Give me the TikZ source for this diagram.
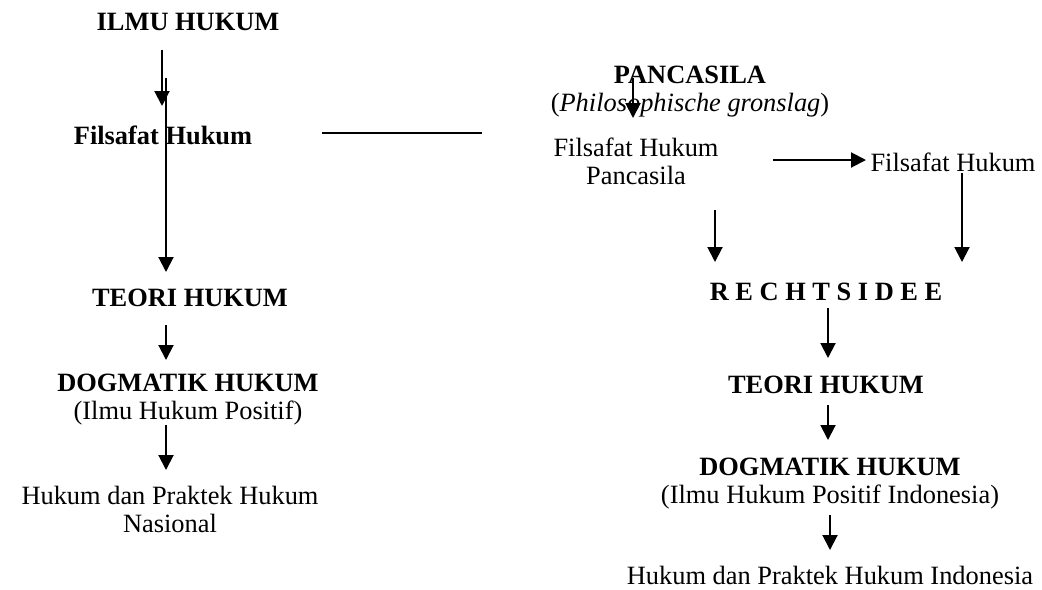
\documentclass[tikz,border=0pt]{standalone}
\usepackage{fontspec}
\setmainfont{Liberation Serif}
\usetikzlibrary{arrows.meta}
\begin{document}
\begin{tikzpicture}[x=0.5pt,y=-0.5pt,
  lbl/.style={inner sep=0pt, font=\fontsize{13.2}{14}\selectfont, align=center},
  bl/.style={lbl, font=\fontsize{13.2}{14}\selectfont\bfseries},
  arr/.style={line width=1pt, -{Triangle[length=7.5pt,width=7.5pt]}},
  ln/.style={line width=1pt}]
\useasboundingbox (0,0) rectangle (1042,589);
% left column
\node[bl] (ilmu) at (188,22) {ILMU HUKUM};
\node[bl] (filL) at (163,135) {Filsafat Hukum};
\node[bl] (teoriL) at (190,298) {TEORI HUKUM};
\node[lbl] (dogL) at (188,400) {\textbf{DOGMATIK HUKUM}\\(Ilmu Hukum Positif)};
\node[lbl] (prakL) at (170,509) {Hukum dan Praktek Hukum\\Nasional};
% right column
\node[lbl] (panc) at (690,92) {\textbf{PANCASILA}\\(\textit{Philosophische gronslag})};
\node[lbl] (filP) at (636,161) {Filsafat Hukum\\Pancasila};
\node[lbl] (filR) at (953,162) {Filsafat Hukum};
\node[bl] (recht) at (826,292) {R E C H T S I D E E};
\node[bl] (teoriR) at (826,385) {TEORI HUKUM};
\node[lbl] (dogR) at (830,484) {\textbf{DOGMATIK HUKUM}\\(Ilmu Hukum Positif Indonesia)};
\node[lbl] (prakR) at (830,575) {Hukum dan Praktek Hukum Indonesia};
% connector ends
\coordinate (ilmuOut) at (162,50);   \coordinate (filLIn) at (162,106);
\coordinate (longTop) at (166,78);   \coordinate (teoriLIn) at (166,272);
\coordinate (linkA) at (322,133);    \coordinate (linkB) at (482,133);
\coordinate (teoriLOut) at (166,325); \coordinate (dogLIn) at (166,360);
\coordinate (dogLOut) at (166,425);  \coordinate (prakLIn) at (166,470);
\coordinate (pancOut) at (633,78);   \coordinate (filPIn) at (633,118);
\coordinate (filPOut) at (773,160);  \coordinate (filRIn) at (866,160);
\coordinate (filPDown) at (715,210); \coordinate (rechtInA) at (715,262);
\coordinate (filRDown) at (962,173); \coordinate (rechtInB) at (962,262);
\coordinate (rechtOut) at (828,308); \coordinate (teoriRIn) at (828,358);
\coordinate (teoriROut) at (828,405); \coordinate (dogRIn) at (828,440);
\coordinate (dogROut) at (830,515);  \coordinate (prakRIn) at (830,550);
% connectors
\draw[arr] (ilmuOut) -- (filLIn);
\draw[arr] (longTop) -- (teoriLIn);
\draw[ln] (linkA) -- (linkB);
\draw[arr] (teoriLOut) -- (dogLIn);
\draw[arr] (dogLOut) -- (prakLIn);
\draw[arr] (pancOut) -- (filPIn);
\draw[arr] (filPOut) -- (filRIn);
\draw[arr] (filPDown) -- (rechtInA);
\draw[arr] (filRDown) -- (rechtInB);
\draw[arr] (rechtOut) -- (teoriRIn);
\draw[arr] (teoriROut) -- (dogRIn);
\draw[arr] (dogROut) -- (prakRIn);
\end{tikzpicture}
\end{document}
